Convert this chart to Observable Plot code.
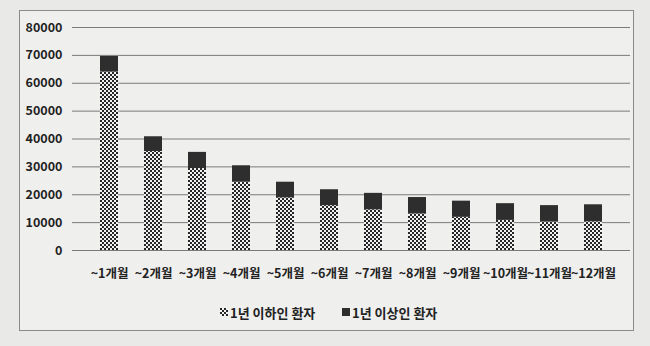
<!DOCTYPE html>
<html><head><meta charset="utf-8">
<script src="https://cdn.jsdelivr.net/npm/d3@7"></script>
<script src="https://cdn.jsdelivr.net/npm/@observablehq/plot@0.6"></script>
<style>
html,body{margin:0;padding:0;background:#e9e9e8;width:650px;height:346px;overflow:hidden;}
#frame{position:absolute;left:19px;top:10px;width:613px;height:319px;border:1px solid #8a8a8a;background:#efefee;}
#chart{position:absolute;left:0;top:0;}
#legend{position:absolute;left:0;top:303px;width:650px;height:18px;font-family:"Noto Sans CJK KR",sans-serif;font-weight:bold;font-size:13px;color:#222;}
.item{position:absolute;top:0;display:flex;align-items:center;height:18px;}
.sw{display:inline-block;width:8px;height:8px;margin-right:2px;}
</style></head>
<body>
<div id="frame"></div>
<div id="chart"></div>
<div id="legend"></div>
<script>
const months = ["~1개월","~2개월","~3개월","~4개월","~5개월","~6개월","~7개월","~8개월","~9개월","~10개월","~11개월","~12개월"];
const under1yr = [64000, 35500, 29400, 24500, 18900, 16100, 14600, 13100, 11900, 10800, 10200, 10300];
const over1yr  = [5600, 5300, 5800, 5900, 5600, 5700, 5900, 5900, 5800, 6000, 5900, 6100];
const series = ["1년 이하인 환자", "1년 이상인 환자"];
const yTicks = [0, 10000, 20000, 30000, 40000, 50000, 60000, 70000, 80000];

const data = months.flatMap((m, i) => [
  {month: m, group: series[0], value: under1yr[i]},
  {month: m, group: series[1], value: over1yr[i]}
]);

const svg = Plot.plot({
  width: 650, height: 290,
  marginLeft: 72, marginRight: 20, marginTop: 27, marginBottom: 40,
  style: {background: "transparent", fontFamily: "'Noto Sans CJK KR', sans-serif", fontSize: "12.5px", fontWeight: "bold", color: "#222"},
  x: {domain: months, padding: 0.58, label: null},
  y: {domain: [0, 80000], label: null},
  color: {domain: series, range: ["url(#checker)", "#2e2e2e"]},
  marks: [
    Plot.gridY(yTicks, {stroke: "#7a7a7a", strokeOpacity: 1, strokeWidth: 1}),
    Plot.barY(data, {x: "month", y: "value", fill: "group"}),
    Plot.axisY(yTicks, {tickSize: 0, tickPadding: 10, tickFormat: d => String(d), label: null}),
    Plot.axisX({tickSize: 0, tickPadding: 19, label: null})
  ]
});

function addChecker(defsSel, id) {
  const p = defsSel.append("pattern").attr("id", id)
    .attr("width", 4).attr("height", 4)
    .attr("patternUnits", "userSpaceOnUse");
  p.append("rect").attr("width", 4).attr("height", 4).attr("fill", "#f2f2f2");
  p.append("rect").attr("width", 2).attr("height", 2).attr("fill", "#262626");
  p.append("rect").attr("x", 2).attr("y", 2).attr("width", 2).attr("height", 2).attr("fill", "#262626");
}
addChecker(d3.select(svg).insert("defs", ":first-child"), "checker");

document.getElementById("chart").appendChild(svg);

// legend
const legend = d3.select("#legend");
const items = [
  {label: series[0], left: 220, pattern: true},
  {label: series[1], left: 342, pattern: false}
];
items.forEach(it => {
  const d = legend.append("div").attr("class", "item").style("left", it.left + "px");
  const sw = d.append("svg").attr("class", "sw").attr("width", 8).attr("height", 8);
  if (it.pattern) {
    addChecker(sw.append("defs"), "checkerL");
    sw.append("rect").attr("width", 8).attr("height", 8).attr("fill", "url(#checkerL)");
  } else {
    sw.append("rect").attr("width", 8).attr("height", 8).attr("fill", "#2e2e2e");
  }
  d.append("span").text(it.label);
});
</script>
</body></html>
